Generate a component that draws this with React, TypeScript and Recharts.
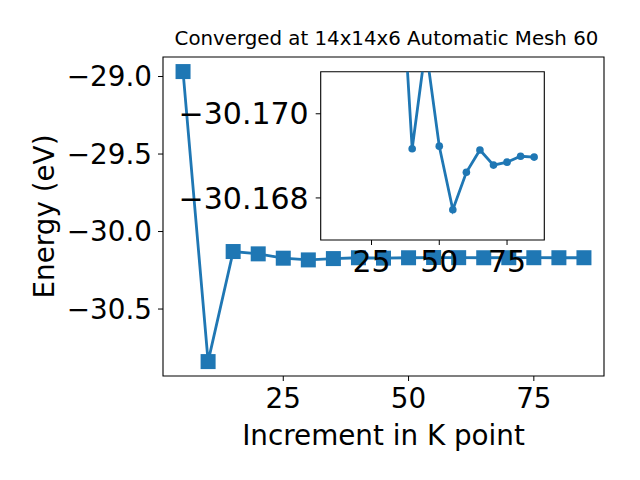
import { Line, LineChart, ReferenceArea, XAxis, YAxis } from 'recharts';

const blue = '#1f77b4';
const font = '"DejaVu Sans", sans-serif';

// k-point increments and total energy (eV)
const kPoints = [5, 10, 15, 20, 25, 30, 35, 40, 45, 50, 55, 60, 65, 70, 75, 80, 85];
const energy = [
  -28.968, -30.839, -30.129, -30.144, -30.172, -30.183, -30.1745, -30.16917, -30.1716,
  -30.16923, -30.16772, -30.16861, -30.16914, -30.16878, -30.16885, -30.16899, -30.16897,
];

const mainXTicks = [25, 50, 75];
const mainYTicks = [-29.0, -29.5, -30.0, -30.5];
const insetXTicks = [25, 50, 75];
const insetYTicks = [-30.17, -30.168];

const mainX: [number, number] = [1, 89];
const mainY: [number, number] = [-30.932, -28.874];
const insetX: [number, number] = [6.25, 88.75];
const insetY: [number, number] = [-30.171, -30.167];

// inset zooms in on the converged tail
const insetStart = 35;

const mainData = kPoints.map((k, i) => ({ k, e: energy[i] }));
const insetData = mainData.filter((d) => d.k >= insetStart);

const minus = (s: string) => s.replace('-', '\u2212');
const tickStyle = { fill: '#000', fontSize: 27.8, fontFamily: font };
const insetTickStyle = { fill: '#000', fontSize: 30, fontFamily: font };

function SquareDot(props: { cx?: number; cy?: number; index?: number }) {
  const { cx, cy, index } = props;
  if (cx == null || cy == null) return null;
  return <rect key={index} x={cx - 7.5} y={cy - 7.5} width={15} height={15} fill={blue} />;
}

export default function App() {
  return (
    <div style={{ position: 'absolute', left: 0, top: 0, width: 640, height: 480, background: '#fff' }}>
      <div style={{ position: 'absolute', left: 0, top: 0 }}>
        <LineChart width={640} height={480} data={mainData} margin={{ top: 57, right: 36, bottom: 0, left: 0 }}>
          <XAxis
            type="number"
            dataKey="k"
            domain={mainX}
            ticks={mainXTicks}
            interval={0}
            height={104}
            axisLine={false}
            tickLine={{ stroke: '#000' }}
            tickSize={5}
            tickMargin={7}
            tick={tickStyle}
            label={{
              value: 'Increment in K point',
              position: 'insideBottom',
              offset: 35,
              fill: '#000',
              fontSize: 27.8,
              fontFamily: font,
            }}
          />
          <YAxis
            type="number"
            domain={mainY}
            ticks={mainYTicks}
            interval={0}
            width={163}
            axisLine={false}
            tickLine={{ stroke: '#000' }}
            tickSize={5}
            tickMargin={6}
            tick={tickStyle}
            tickFormatter={(v) => minus((v as number).toFixed(1))}
            label={{
              value: 'Energy (eV)',
              angle: -90,
              position: 'insideLeft',
              offset: 44,
              fill: '#000',
              fontSize: 27.8,
              fontFamily: font,
              style: { textAnchor: 'middle' },
            }}
          />
          <ReferenceArea x1={mainX[0]} x2={mainX[1]} y1={mainY[0]} y2={mainY[1]} fill="none" stroke="#000" strokeWidth={1.1} />
          <Line
            type="linear"
            dataKey="e"
            stroke={blue}
            strokeWidth={2.8}
            dot={<SquareDot />}
            isAnimationActive={false}
          />
        </LineChart>
      </div>
      <div style={{ position: 'absolute', left: 0, top: 0 }}>
        <LineChart width={640} height={480} data={insetData} margin={{ top: 71.7, right: 95.7, bottom: 0, left: 0 }}>
          <XAxis
            type="number"
            dataKey="k"
            domain={insetX}
            ticks={insetXTicks}
            interval={0}
            height={240}
            axisLine={false}
            tickLine={{ stroke: '#000' }}
            tickSize={5}
            tickMargin={6}
            tick={insetTickStyle}
          />
          <YAxis
            type="number"
            domain={insetY}
            reversed
            allowDataOverflow
            ticks={insetYTicks}
            interval={0}
            width={320.7}
            axisLine={false}
            tickLine={{ stroke: '#000' }}
            tickSize={5}
            tickMargin={7}
            tick={insetTickStyle}
            tickFormatter={(v) => minus((v as number).toFixed(3))}
          />
          <ReferenceArea x1={insetX[0]} x2={insetX[1]} y1={insetY[0]} y2={insetY[1]} fill="none" stroke="#000" strokeWidth={1.1} />
          <Line
            type="linear"
            dataKey="e"
            stroke={blue}
            strokeWidth={2.8}
            dot={{ r: 3.8, fill: blue, stroke: blue, strokeWidth: 0 }}
            isAnimationActive={false}
          />
        </LineChart>
      </div>
      <div
        style={{
          position: 'absolute',
          left: 166,
          width: 441,
          top: 29.3,
          textAlign: 'center',
          fontFamily: font,
          fontSize: 19.8,
          lineHeight: '19.8px',
          color: '#000',
          whiteSpace: 'nowrap',
        }}
      >
        Converged at 14x14x6 Automatic Mesh 60
      </div>
    </div>
  );
}
